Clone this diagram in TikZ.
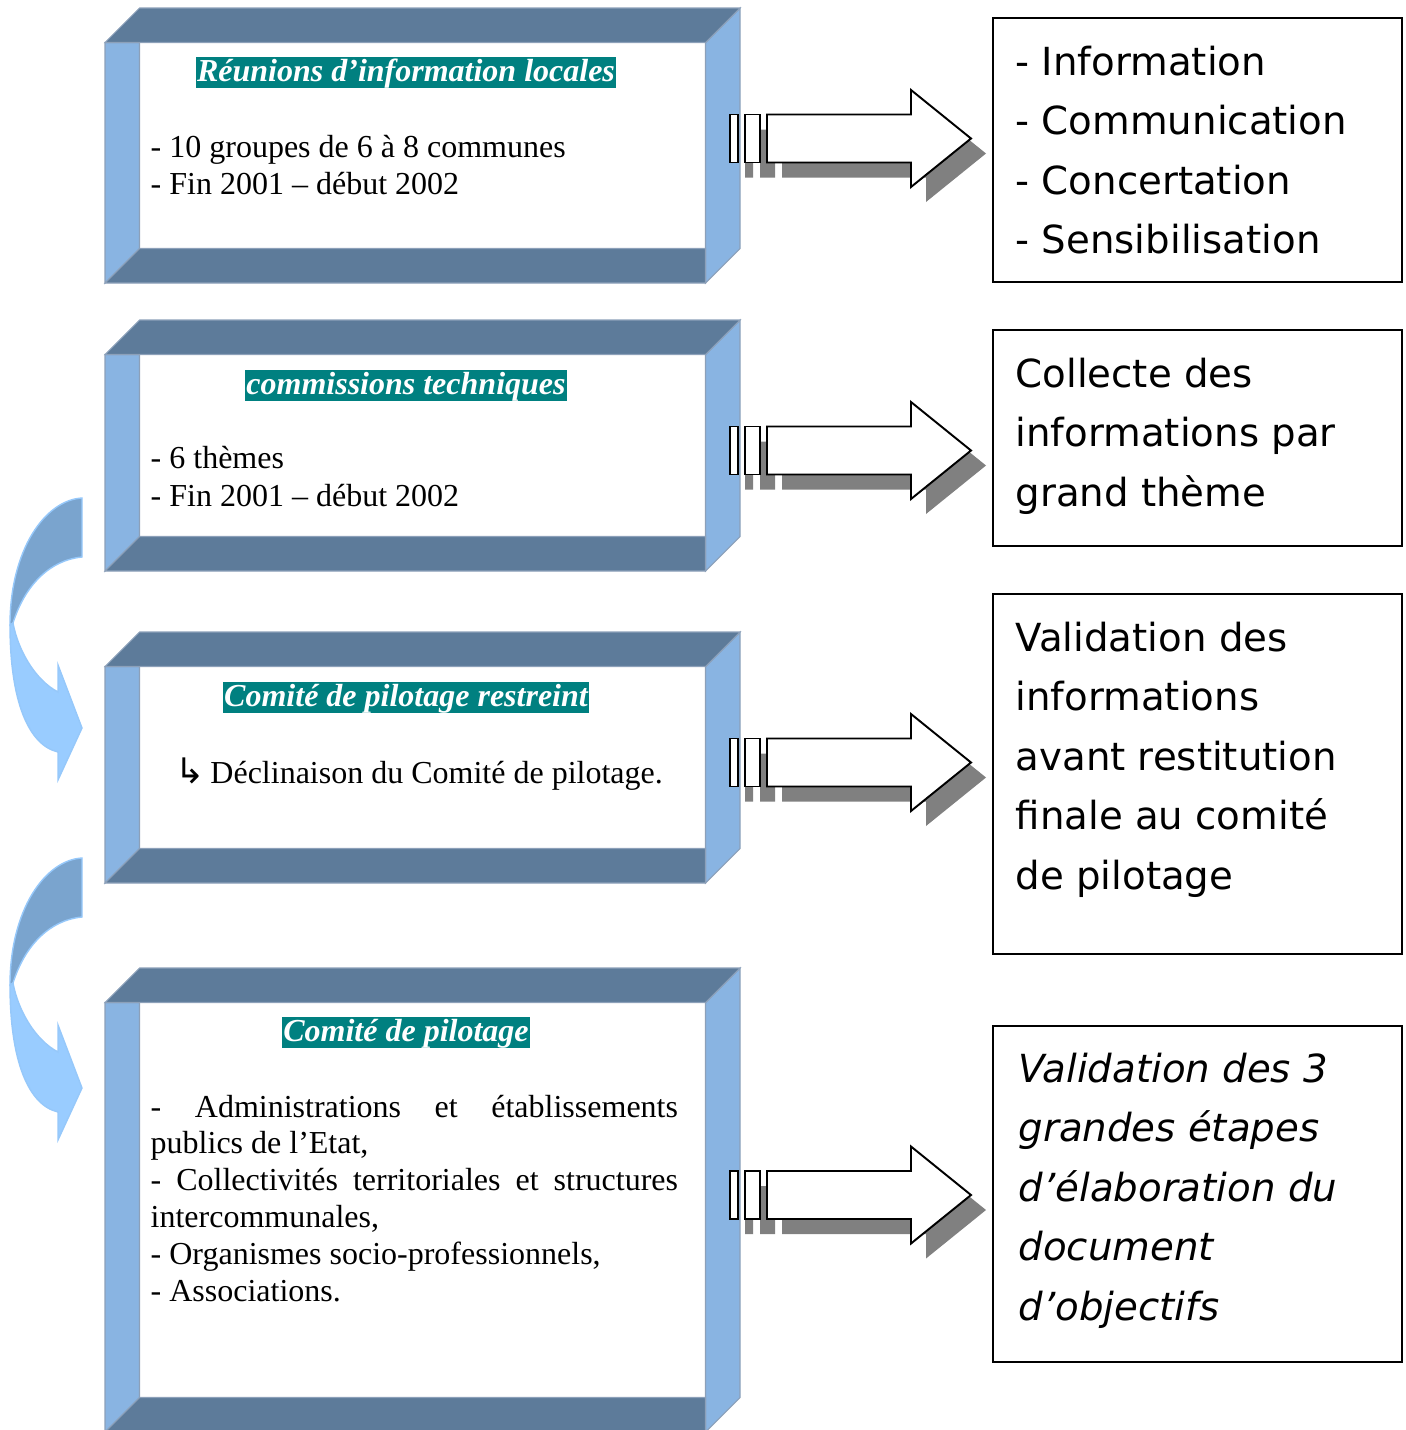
\documentclass[tikz,border=0pt]{standalone}
\usepackage{fontspec}
\setmainfont{Liberation Serif}
\newfontfamily\comicfont{DejaVu Sans}
\newfontfamily\symfont{DejaVu Sans}
\usetikzlibrary{positioning}
\definecolor{bevdark}{RGB}{93,123,154}
\definecolor{bevlight}{RGB}{137,180,226}
\definecolor{bevline}{RGB}{140,160,185}
\definecolor{titlebg}{RGB}{0,128,128}
\definecolor{curvlight}{RGB}{153,204,255}
\definecolor{curvdark}{RGB}{122,164,206}
\definecolor{curvedge}{RGB}{150,200,250}
\definecolor{shade}{RGB}{128,128,128}
\tikzset{
  % Rahmenflächen
  facedark/.style={fill=bevdark, draw=bevline, line width=0.3pt},
  facelight/.style={fill=bevlight, draw=bevline, line width=0.3pt},
  % Texte links
  boxtitle/.style={fill=titlebg, text=white, font=\fontsize{9.1}{10.5}\selectfont\bfseries\itshape,
    inner xsep=0.4pt, inner ysep=0pt, text height=6.9pt, text depth=1.9pt, anchor=base},
  bodytext/.style={font=\fontsize{9.1}{10.5}\selectfont, inner sep=0pt, anchor=base west},
  % Kästen rechts
  outbox/.style={draw=black, line width=0.5pt},
  outtext/.style={font=\comicfont\fontsize{11}{17}\selectfont, inner sep=0pt, anchor=base west},
  % Pfeile
  arrowbody/.style={fill=white, draw=black, line width=0.55pt, line join=miter},
  arrowshade/.style={fill=shade},
  curvefront/.style={fill=curvlight, draw=curvedge, line width=0.4pt},
  curveback/.style={fill=curvdark, draw=curvedge, line width=0.4pt},
}

\begin{document}
\begin{tikzpicture}[x=0.01cm, y=-0.01cm]
  \useasboundingbox (0,0) rectangle (1406,1430);

  % Rahmen links (schräge Kanten)
  \foreach \ya/\yb in {8/283,320/571,632/883,968/1432}{
    \def\bw{34.5}
    \filldraw[facelight] (105,\ya+\bw) -- (105+\bw,\ya+\bw) -- (105+\bw,\yb-\bw) -- (105,\yb) -- cycle;
    \filldraw[facelight] (740-\bw,\ya+\bw) -- (740,\ya) -- (740,\yb-\bw) -- (740-\bw,\yb) -- cycle;
    \filldraw[facedark] (105,\ya+\bw) -- (105+\bw,\ya) -- (740,\ya) -- (740-\bw,\ya+\bw) -- cycle;
    \filldraw[facedark] (105,\yb) -- (105+\bw,\yb-\bw) -- (740-\bw,\yb-\bw) -- (740-\bw,\yb) -- cycle;
  }

  % gebogene Pfeile
  \foreach \dy in {0,360}{
    \begin{scope}[shift={(0,\dy)}]
      \filldraw[curveback] (82,498) .. controls (45,500) and (10,550) .. (10,625)
        -- (13,623) .. controls (25,585) and (50,560) .. (82,557) -- cycle;
      \filldraw[curvefront] (10,625) .. controls (10,700) and (28,745) .. (58,752)
        -- (58,780) -- (82,728) -- (58,665) -- (58,692)
        .. controls (35,680) and (18,650) .. (13,623) -- cycle;
    \end{scope}
  }

  % Blockpfeile mit Schatten
  \foreach \cy in {138.5,450.5,762.5,1195}{
    \begin{scope}[shift={(0,\cy)}]
      \fill[arrowshade, shift={(15,15)}] (730,-24) rectangle (738,24) (745,-24) rectangle (760,24)
        (767,-24) -- (911,-24) -- (911,-48.5) -- (971,0) -- (911,48.5) -- (911,24) -- (767,24) -- cycle;
      \filldraw[arrowbody] (730,-24) rectangle (738,24);
      \filldraw[arrowbody] (745,-24) rectangle (760,24);
      \filldraw[arrowbody] (767,-24) -- (911,-24) -- (911,-48.5) -- (971,0) -- (911,48.5) -- (911,24) -- (767,24) -- cycle;
    \end{scope}
  }

  % Titel
  \node[boxtitle] (reunions) at (406,81) {Réunions d’information locales};
  \node[boxtitle] (commissions) at (406,394.5) {commissions techniques};
  \node[boxtitle] (restreint) at (406,706.5) {Comité de pilotage restreint};
  \node[boxtitle] (pilotage) at (406,1041.5) {Comité de pilotage};

  % Inhalt links
  \node[bodytext] (reu-1) at (150,157) {- 10 groupes de 6 à 8 communes};
  \node[bodytext] (reu-2) at (150,194) {- Fin 2001 – début 2002};
  \node[bodytext] (com-1) at (150,468) {- 6 thèmes};
  \node[bodytext] (com-2) at (150,506) {- Fin 2001 – début 2002};
  \node[bodytext] (res-1) at (175,783) {{\symfont\fontsize{10}{10}\selectfont ↳}\hspace{1.5pt}Déclinaison du Comité de pilotage.};
  \foreach \t [count=\i] in {{\makebox[5.27cm][s]{- Administrations et établissements}},
      {publics de l’Etat,},
      {\makebox[5.27cm][s]{- Collectivités territoriales et structures}},
      {intercommunales,},
      {- Organismes socio-professionnels,},
      {- Associations.}}
    \node[bodytext] (pil-\i) at (150,{1117+36.9*(\i-1)}) {\t};

  % Kästen rechts
  \draw[outbox] (993,18) rectangle (1402,282);
  \draw[outbox] (993,330) rectangle (1402,546);
  \draw[outbox] (993,594) rectangle (1402,954);
  \draw[outbox] (993,1026) rectangle (1402,1362);
  \foreach \t [count=\i] in {- Information,- Communication,- Concertation,- Sensibilisation}
    \node[outtext] (info-\i) at (1015,{75+59.5*(\i-1)}) {\t};
  \foreach \t [count=\i] in {Collecte des,informations par,grand thème}
    \node[outtext] (coll-\i) at (1015,{387+59.5*(\i-1)}) {\t};
  \foreach \t [count=\i] in {Validation des,informations,avant restitution,finale au comité,de pilotage}
    \node[outtext] (valid-\i) at (1015,{651+59.5*(\i-1)}) {\t};
  \foreach \t [count=\i] in {Validation des 3,grandes étapes,d’élaboration du,document,d’objectifs}
    \node[outtext, font=\comicfont\itshape\fontsize{11}{17}\selectfont] (etap-\i) at (1018,{1082+59.5*(\i-1)}) {\t};
\end{tikzpicture}
\end{document}
